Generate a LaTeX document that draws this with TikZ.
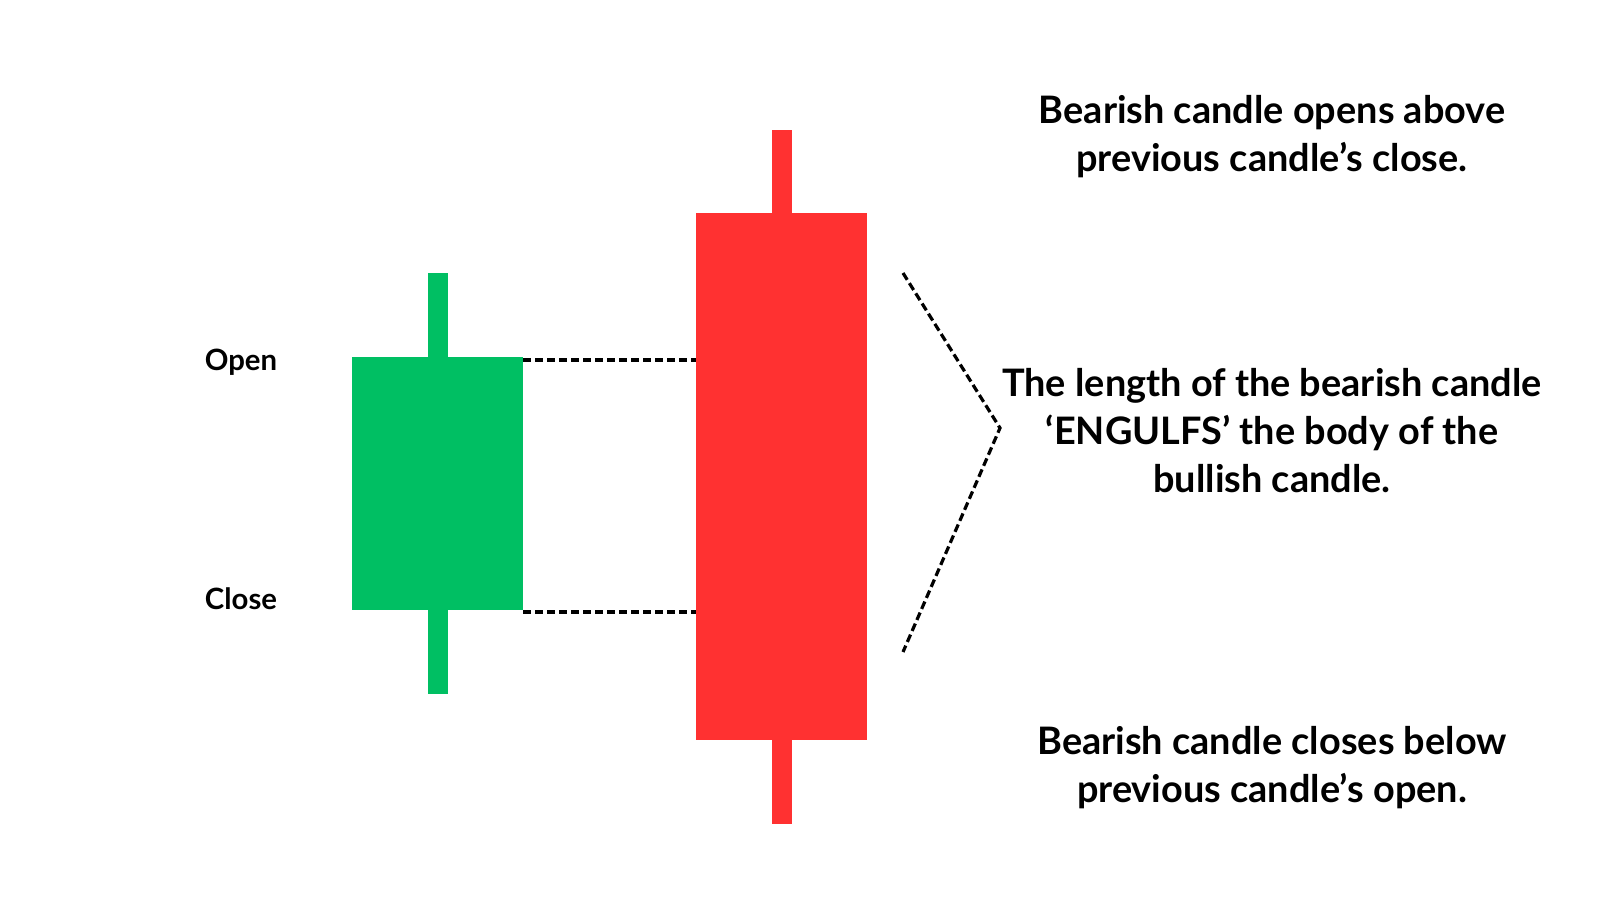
\documentclass[tikz,border=0pt]{standalone}
\usepackage{fontspec}
\setmainfont{Lato}
\usepackage{tikz}
\usepackage{color}

\definecolor{bullgreen}{RGB}{0,191,99}
\definecolor{bearred}{RGB}{255,49,49}

\begin{document}
\begin{tikzpicture}[x=0.75pt,y=0.75pt,yscale=-1,xscale=1,
	guide/.style={dash pattern={on 6pt off 3pt}, line width=2.4pt},
	label/.style={inner sep=0.75pt, font=\fontsize{22}{26}\selectfont\bfseries},
	note/.style={inner sep=0.75pt, align=center, font=\fontsize{28.4}{36}\selectfont\bfseries}]
	\useasboundingbox (0,0) rectangle (1600,900);

	%Shape: Rectangle [id:bull_body]
	\fill [bullgreen] (352,357) rectangle (523,610) ;
	%Shape: Rectangle [id:bull_wicks]
	\fill [bullgreen] (428,273) rectangle (448,357) ;
	\fill [bullgreen] (428,610) rectangle (448,694) ;
	%Shape: Rectangle [id:bear_body]
	\fill [bearred] (696,213) rectangle (867,740) ;
	%Shape: Rectangle [id:bear_wicks]
	\fill [bearred] (772,130) rectangle (792,213) ;
	\fill [bearred] (772,740) rectangle (792,824) ;

	\coordinate (openL) at (523,360) ;
	\coordinate (openR) at (696,360) ;
	\coordinate (closeL) at (523,612) ;
	\coordinate (closeR) at (696,612) ;
	\coordinate (brTop) at (903,273) ;
	\coordinate (brTip) at (1000,428) ;
	\coordinate (brBot) at (903,652) ;

	%Straight Lines [id:open_level]
	\draw [guide] (openL) -- (openR) ;
	%Straight Lines [id:close_level]
	\draw [guide] (closeL) -- (closeR) ;
	%Straight Lines [id:bracket]
	\draw [guide] (brTop) -- (brTip) -- (brBot) ;

	% Text Node
	\draw (241,362) node (open) [label] {Open};
	% Text Node
	\draw (241,599) node (close) [label] {Close};
	% Text Node
	\draw (1272,137) node (opensnote) [note] {Bearish candle opens above\\previous candle’s close.};
	% Text Node
	\draw (1272,431) node (engulfnote) [note] {The length of the bearish candle\\‘ENGULFS’ the body of the\\bullish candle.};
	% Text Node
	\draw (1272,768) node (closesnote) [note] {Bearish candle closes below\\previous candle’s open.};

\end{tikzpicture}
\end{document}
